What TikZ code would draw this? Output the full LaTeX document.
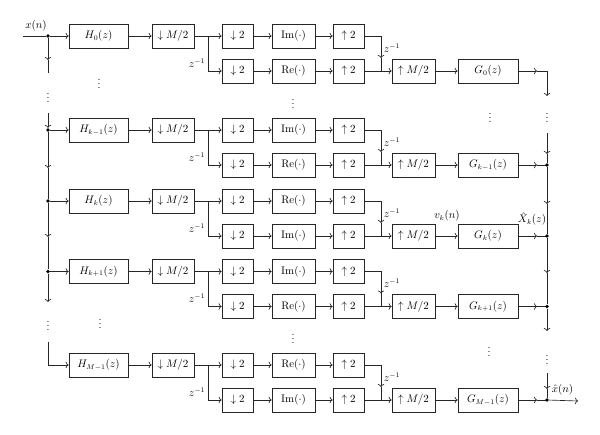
\documentclass[tikz,border=0pt]{standalone}
\usetikzlibrary{arrows.meta}
\begin{document}
\begin{tikzpicture}[x=1pt,y=-1pt,
  >={To[length=3pt,width=6.5pt]},
  line width=0.65pt, draw=black!85,
  font=\fontsize{10.5}{12}\selectfont,
  blk/.style={draw=black!85, minimum height=24pt, inner sep=0pt, fill=white},
  dotnode/.style={circle, fill=black, inner sep=0pt, minimum size=3.6pt},
  lbl/.style={inner sep=0.5pt}]
\useasboundingbox (0,0) rectangle (600,435);

\foreach \i/\ty/\hh/\opa/\opb/\gg in {0/36/0/Im/Re/0, 1/130/{k-1}/Im/Re/{k-1}, 2/201/k/Re/Im/k, 3/271.5/{k+1}/Im/Re/{k+1}, 4/365/{M-1}/Re/Im/{M-1}}{
  \pgfmathsetmacro\by{\ty+35}
  \node[blk,minimum width=59pt] (H\i) at (98.5,\ty) {$H_{\hh}(z)$};
  \node[blk,minimum width=42pt] (D\i) at (173,\ty) {$\downarrow M/2$};
  \node[blk,minimum width=31pt] (da\i) at (237.5,\ty) {$\downarrow 2$};
  \node[blk,minimum width=31pt] (db\i) at (237.5,\by) {$\downarrow 2$};
  \node[blk,minimum width=43pt] (oa\i) at (293.5,\ty) {$\mathrm{\opa}(\cdot)$};
  \node[blk,minimum width=43pt] (ob\i) at (293.5,\by) {$\mathrm{\opb}(\cdot)$};
  \node[blk,minimum width=31pt] (ua\i) at (348.5,\ty) {$\uparrow 2$};
  \node[blk,minimum width=31pt] (ub\i) at (348.5,\by) {$\uparrow 2$};
  \node[blk,minimum width=43pt] (U\i) at (413.5,\by) {$\uparrow M/2$};
  \node[blk,minimum width=60pt] (G\i) at (488,\by) {$G_{\gg}(z)$};
  \coordinate (s\i) at (208,\ty);
  \coordinate (jm\i) at (381,\ty+22);
  \coordinate (j\i) at (381,\by);
  \coordinate (ga\i) at (537,\by);
  \coordinate (R\i) at (547,\by);
  \node[lbl,anchor=east] (zl\i) at (206,\ty+27) {$z^{-1}$};
  \node[lbl,anchor=west] (zr\i) at (383,\ty+12) {$z^{-1}$};
  \draw[->] (H\i) -- (D\i);
  \draw (D\i) -- (s\i);
  \draw[->] (s\i) -- (da\i);
  \draw[->] (s\i) |- (db\i);
  \draw[->] (da\i) -- (oa\i);
  \draw[->] (db\i) -- (ob\i);
  \draw[->] (oa\i) -- (ua\i);
  \draw[->] (ob\i) -- (ub\i);
  \draw[->] (ua\i) -| (jm\i);
  \draw (jm\i) -- (j\i);
  \draw[->] (ub\i) -- (U\i);
  \draw[->] (U\i) -- (G\i);
  \draw[->] (G\i) -- (ga\i);
  \draw (ga\i) -- (R\i);
}

% left distribution line
\coordinate (in) at (23,36);
\node[dotnode] (ld0) at (48,36) {};
\node[dotnode] (ld1) at (48,130) {};
\node[dotnode] (ld2) at (48,201) {};
\node[dotnode] (ld3) at (48,271.5) {};
\node[lbl] (xn) at (36,26) {$x(n)$};
\draw (in) -- (ld0);
\foreach \i in {0,1,2,3}{\draw[->] (ld\i) -- (H\i);}
\coordinate (la0) at (48,60);
\coordinate (le0) at (48,73);
\coordinate (ls1) at (48,113);
\coordinate (la1) at (48,168);
\coordinate (la2) at (48,237);
\coordinate (la3) at (48,302);
\coordinate (ls4) at (48,342);
\draw[->] (ld0) -- (la0);
\draw (la0) -- (le0);
\draw[->] (ls1) -- (ld1);
\draw[->] (ld1) -- (la1);
\draw (la1) -- (ld2);
\draw[->] (ld2) -- (la2);
\draw (la2) -- (ld3);
\draw[->] (ld3) -- (la3);
\draw[->] (ls4) |- (H4);

% right summation line
\node[dotnode] (rd1) at (R1) {};
\node[dotnode] (rd2) at (R2) {};
\node[dotnode] (rd3) at (R3) {};
\node[dotnode] (rd4) at (R4) {};
\coordinate (ra0) at (547,96);
\coordinate (rs1) at (547,133);
\coordinate (ra1) at (547,154);
\coordinate (ra2) at (547,204);
\coordinate (ra3) at (547,273);
\coordinate (ra4) at (547,331);
\coordinate (rs5) at (547,373);
\coordinate (ra5) at (547,389);
\coordinate (out) at (578,401);
\draw[->] (R0) -- (ra0);
\draw[->] (rs1) -- (ra1);
\draw (ra1) -- (rd1);
\draw[->] (rd1) -- (ra2);
\draw (ra2) -- (rd2);
\draw[->] (rd2) -- (ra3);
\draw (ra3) -- (rd3);
\draw[->] (rd3) -- (ra4);
\draw[->] (rs5) -- (ra5);
\draw (ra5) -- (rd4);
\draw[->] (rd4) -- (out);

% labels
\node[lbl] (vk) at (447,216) {$v_k(n)$};
\node[lbl] (Xk) at (532,219) {$\hat{X}_k(z)$};
\node[lbl,anchor=west] (xh) at (551,390) {$\hat{x}(n)$};

% continuation dots
\node[lbl] (v1) at (48,95) {$\vdots$};
\node[lbl] (v2) at (99,81) {$\vdots$};
\node[lbl] (v3) at (293,101) {$\vdots$};
\node[lbl] (v4) at (490,115) {$\vdots$};
\node[lbl] (v5) at (547,115) {$\vdots$};
\node[lbl] (v6) at (48,323) {$\vdots$};
\node[lbl] (v7) at (100,321) {$\vdots$};
\node[lbl] (v8) at (293,336) {$\vdots$};
\node[lbl] (v9) at (489,349) {$\vdots$};
\node[lbl] (v10) at (547,357) {$\vdots$};
\end{tikzpicture}
\end{document}
